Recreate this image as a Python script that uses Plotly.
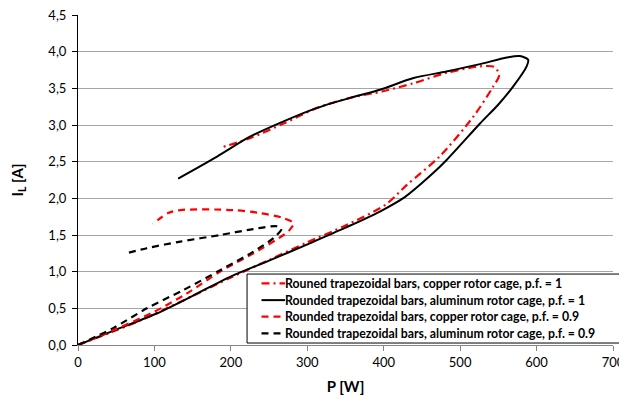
import plotly.graph_objects as go

# Rouned trapezoidal bars, copper rotor cage, p.f. = 1
cu_pf1_P = [0, 50, 100, 150, 200, 250, 300, 350, 402, 430, 473, 517, 543, 551, 545, 526, 482, 439, 399, 356, 312, 269, 225, 186]
cu_pf1_I = [0, 0.20, 0.42, 0.67, 0.92, 1.16, 1.40, 1.63, 1.91, 2.18, 2.57, 3.11, 3.52, 3.68, 3.79, 3.80, 3.71, 3.57, 3.46, 3.37, 3.23, 3.02, 2.82, 2.69]

# Rounded trapezoidal bars, aluminum rotor cage, p.f. = 1
al_pf1_P = [0, 50, 103, 150, 199, 250, 304, 350, 395, 428, 460, 482, 526, 550, 569, 587, 589, 578, 561, 526, 482, 439, 395, 356, 312, 269, 225, 182, 131]
al_pf1_I = [0, 0.21, 0.43, 0.67, 0.93, 1.15, 1.39, 1.60, 1.82, 2.02, 2.30, 2.52, 3.02, 3.28, 3.52, 3.80, 3.89, 3.94, 3.92, 3.83, 3.73, 3.64, 3.48, 3.37, 3.23, 3.05, 2.84, 2.57, 2.27]

# Rounded trapezoidal bars, copper rotor cage, p.f. = 0.9
cu_pf09_P = [0, 46, 99, 142, 186, 238, 269, 277, 282, 269, 238, 203, 134, 118, 98]
cu_pf09_I = [0, 0.20, 0.45, 0.70, 1.00, 1.30, 1.50, 1.57, 1.66, 1.73, 1.80, 1.84, 1.84, 1.80, 1.65]

# Rounded trapezoidal bars, aluminum rotor cage, p.f. = 0.9
al_pf09_P = [0, 46, 90, 138, 186, 229, 256, 266, 260, 229, 186, 134, 90, 63]
al_pf09_I = [0, 0.23, 0.50, 0.75, 1.02, 1.27, 1.46, 1.58, 1.62, 1.58, 1.50, 1.41, 1.32, 1.25]

names = [
    "Rouned trapezoidal bars, copper rotor cage, p.f. = 1",
    "Rounded trapezoidal bars, aluminum rotor cage, p.f. = 1",
    "Rounded trapezoidal bars, copper rotor cage, p.f. = 0.9",
    "Rounded trapezoidal bars, aluminum rotor cage, p.f. = 0.9",
]

x_ticks = [0, 100, 200, 300, 400, 500, 600, 700]
y_ticks = [0, 0.5, 1.0, 1.5, 2.0, 2.5, 3.0, 3.5, 4.0, 4.5]
y_ticktext = ["0,0", "0,5", "1,0", "1,5", "2,0", "2,5", "3,0", "3,5", "4,0", "4,5"]

FONT = "Lato, 'Liberation Sans', sans-serif"

fig = go.Figure()
series = [
    (cu_pf1_P, cu_pf1_I, "#FF0000", "8px,4px,2px,4px", 2.2),
    (al_pf1_P, al_pf1_I, "#000000", "solid", 2.0),
    (cu_pf09_P, cu_pf09_I, "#FF0000", "7px,5px", 2.2),
    (al_pf09_P, al_pf09_I, "#000000", "7px,5px", 2.2),
]
for (px, py, col, dash, w), nm in zip(series, names):
    fig.add_trace(go.Scatter(
        x=px, y=py, mode="lines", name=nm, showlegend=False,
        line=dict(color=col, dash=dash, width=w, shape="spline", smoothing=0.8),
    ))

# compact legend box (Excel-style), drawn in paper coordinates
LEG_X0, LEG_X1, LEG_Y0, LEG_Y1 = 0.316, 1.015, 0.006, 0.215
row_y = [0.187, 0.136, 0.086, 0.035]
fig.add_shape(type="rect", xref="paper", yref="paper",
              x0=LEG_X0, x1=LEG_X1, y0=LEG_Y0, y1=LEG_Y1,
              line=dict(color="#000000", width=1), fillcolor="white", layer="above")
for (px, py, col, dash, w), nm, ry in zip(series, names, row_y):
    fig.add_shape(type="line", xref="paper", yref="paper",
                  x0=0.343, x1=0.387, y0=ry, y1=ry,
                  line=dict(color=col, dash=dash, width=w), layer="above")
    fig.add_annotation(xref="paper", yref="paper", x=0.383, y=ry,
                       xanchor="left", yanchor="middle", showarrow=False,
                       text="<b>" + nm + "</b>",
                       font=dict(family=FONT, size=12.3, color="#000000"))

# page body has an 8px default margin: figure is sized to fit the 627x406 window
fig.update_layout(
    width=619, height=398,
    margin=dict(l=70, r=14, t=7, b=61, autoexpand=False),
    plot_bgcolor="white", paper_bgcolor="white",
    font=dict(family=FONT, color="#000000", size=13),
    showlegend=False,
    xaxis=dict(
        range=[0, 700], tickvals=x_ticks, ticktext=[str(v) for v in x_ticks],
        showgrid=False, zeroline=False, automargin=False,
        showline=True, linecolor="#868686", linewidth=1,
        ticks="outside", ticklen=5, tickcolor="#868686",
        ticklabeloverflow="allow",
        title=dict(text="<b>P [W]</b>", font=dict(size=15), standoff=12),
        tickfont=dict(size=13),
    ),
    yaxis=dict(
        range=[0, 4.5], tickvals=y_ticks, ticktext=y_ticktext,
        showgrid=True, gridcolor="#A6A6A6", gridwidth=1,
        zeroline=False, automargin=False,
        showline=True, linecolor="#000000", linewidth=1,
        ticks="outside", ticklen=5, tickcolor="#000000", ticklabelstandoff=3,
        ticklabeloverflow="allow",
        title=dict(text="<b>I<sub>L</sub> [A]</b>", font=dict(size=15), standoff=22),
        tickfont=dict(size=13),
    ),
)

fig.write_html("out.html")
